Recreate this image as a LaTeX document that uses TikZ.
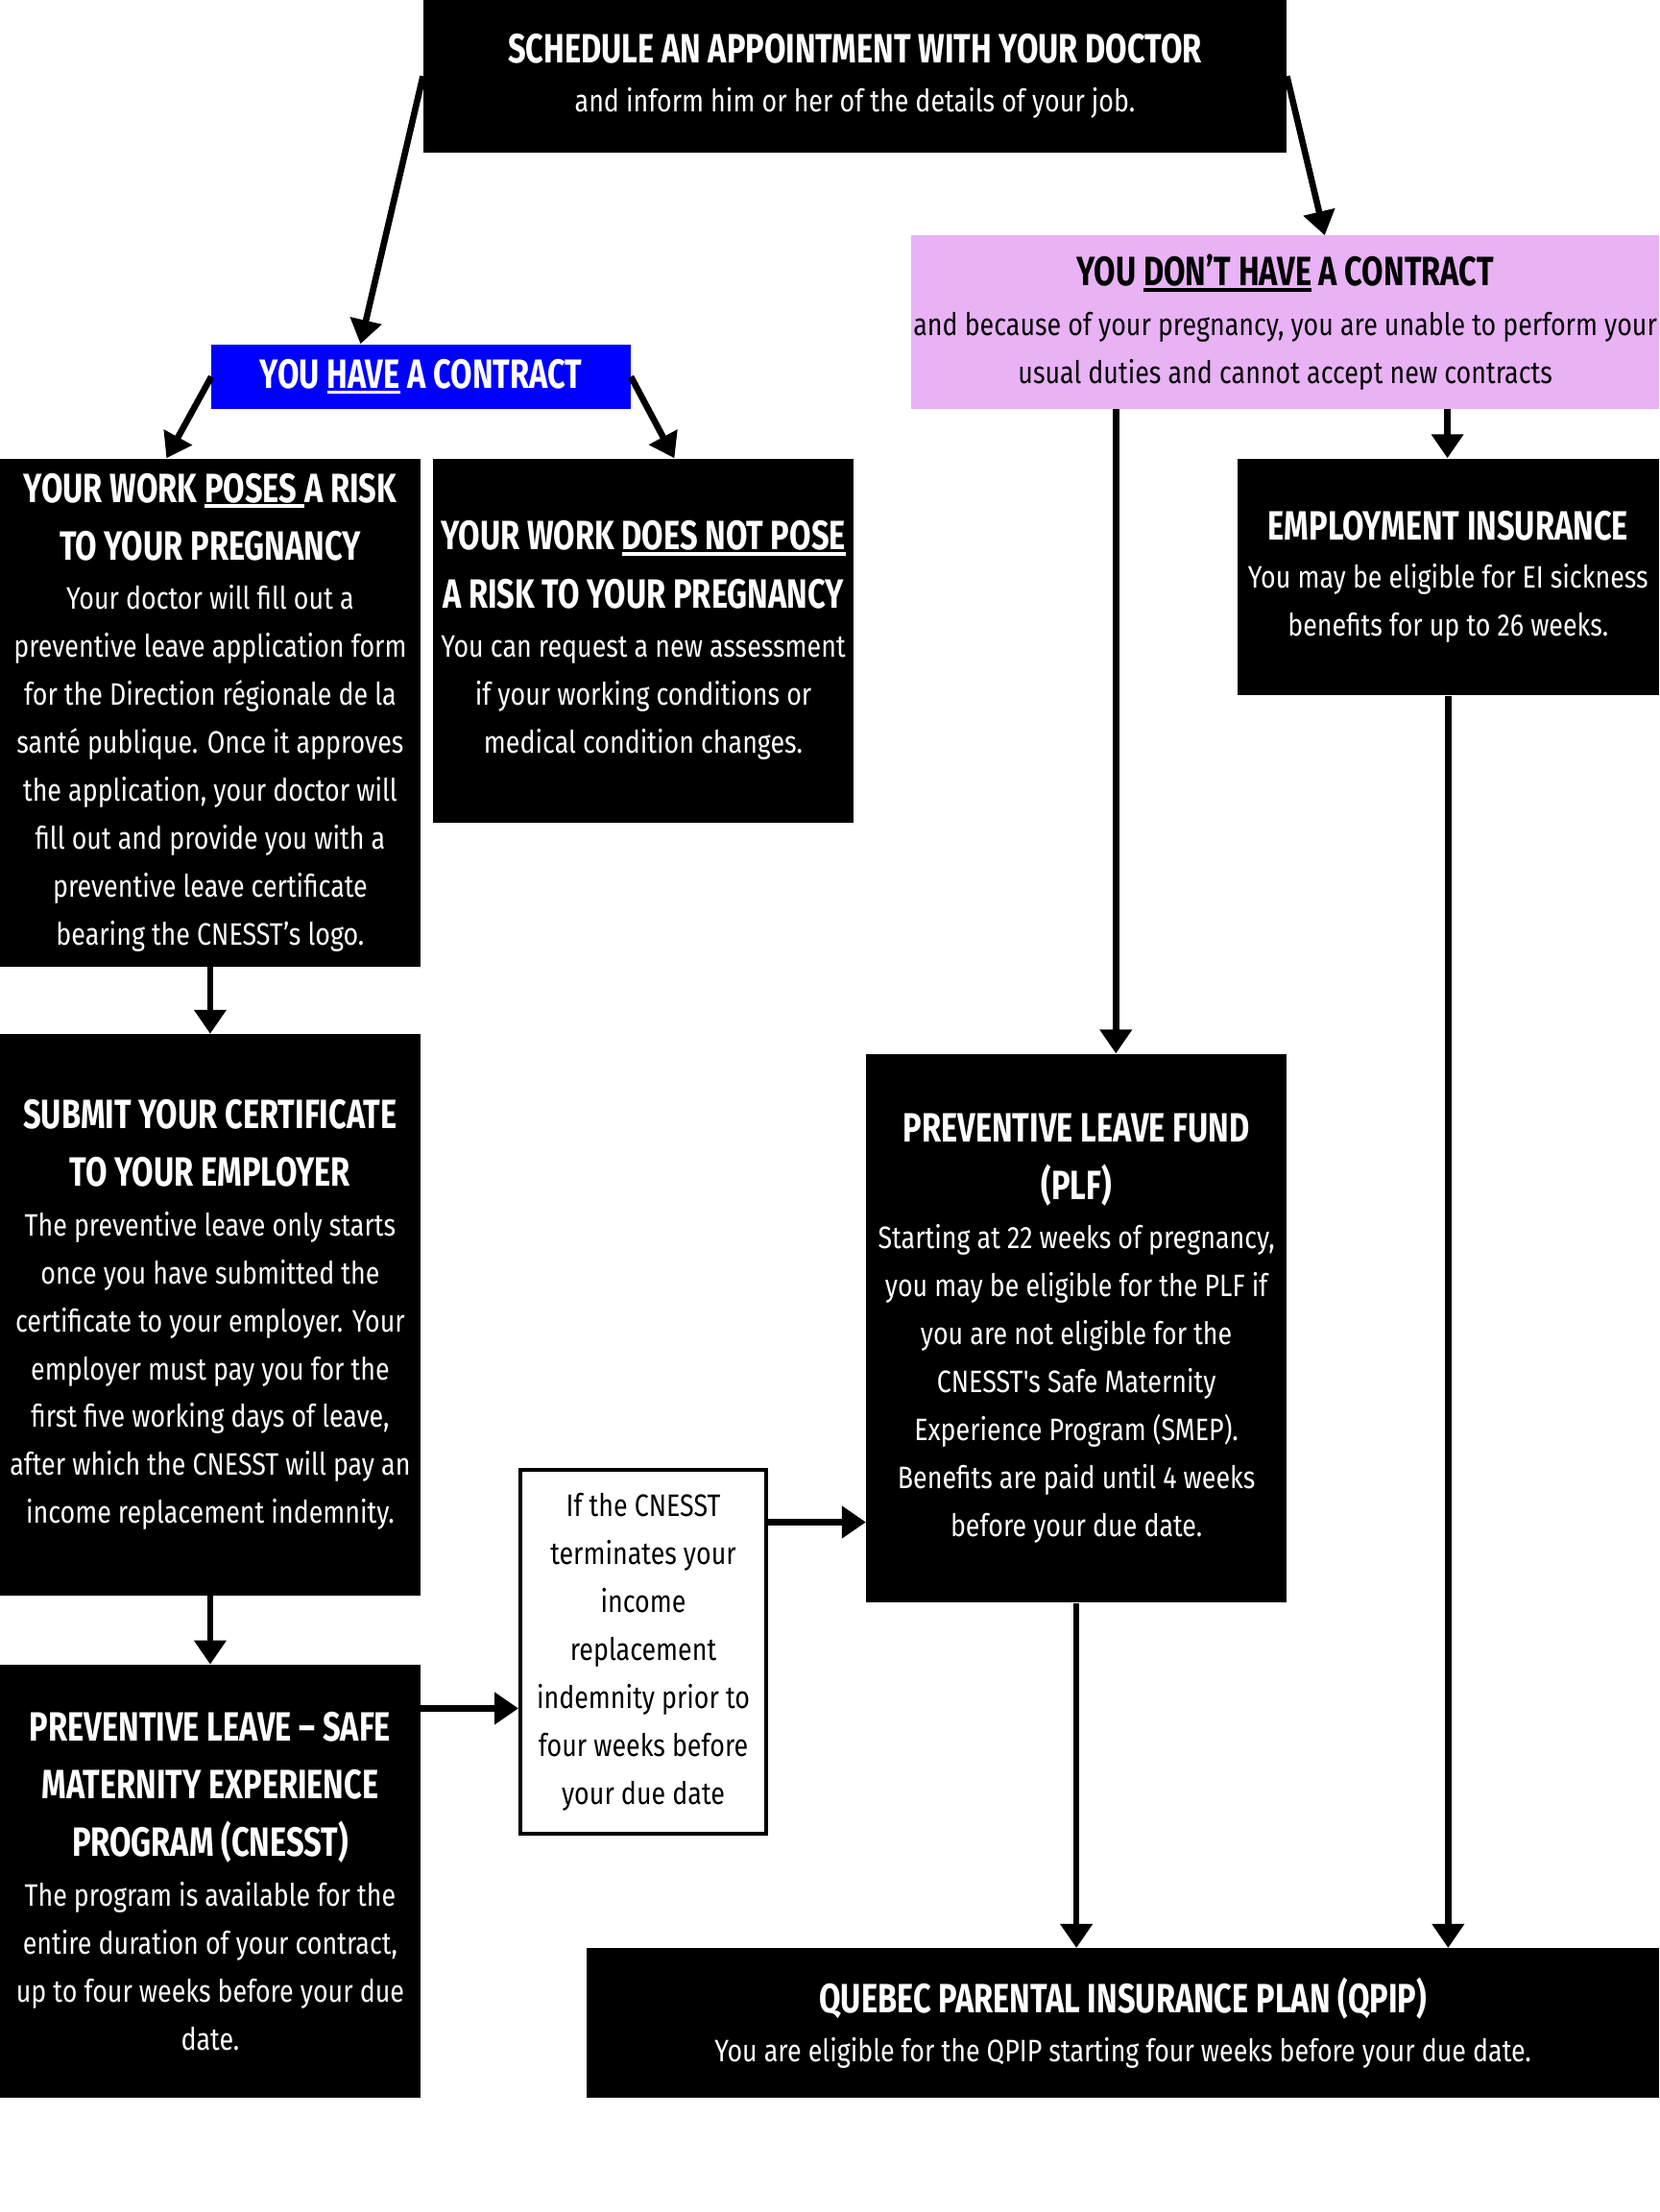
\documentclass[tikz,border=0pt]{standalone}
\usepackage{fontspec}
\setmainfont[FakeStretch=0.83]{Fira Sans}
\newfontfamily\plainbody[FakeStretch=0.83]{Fira Sans}
\newfontfamily\hdfont[FakeStretch=0.765]{Fira Sans}
\usetikzlibrary{arrows.meta,calc}
\definecolor{pinkbox}{RGB}{232,178,245}
\definecolor{bluebox}{RGB}{0,0,255}
\newsavebox\ulbox
\newcommand\hd[1]{{\hdfont\bfseries\fontsize{29}{34}\selectfont #1}}
\newcommand\ulx[1]{\sbox\ulbox{#1}\rlap{\rule[-4pt]{\wd\ulbox}{2.5pt}}\usebox\ulbox}
\tikzset{
  box/.style={fill=black, text=white, inner sep=0pt, align=center,
    font=\fontsize{22}{34}\selectfont},
  arr/.style={line width=4.5pt, -{Triangle[length=17pt,width=22pt]}},
}
\begin{document}
\begin{tikzpicture}[x=1pt,y=-1pt]
\fill[white] (0,0) rectangle (1176,1568);
\useasboundingbox (0,0) rectangle (1176,1568);

\node[box, minimum width=612pt, minimum height=108pt] (top) at (606,54)
  {\hd{SCHEDULE AN APPOINTMENT WITH YOUR DOCTOR}\\[1pt]
   and inform him or her of the details of your job.};

\node[box, fill=bluebox, minimum width=297pt, minimum height=46pt] (have) at (298.5,267)
  {\hd{YOU \ulx{HAVE} A CONTRACT}};

\node[box, fill=pinkbox, text=black, minimum width=530pt, minimum height=123pt] (nohave) at (911,228.5)
  {\hd{YOU \ulx{DON’T HAVE} A CONTRACT}\\[1pt]
   and because of your pregnancy, you are unable to perform your\\
   usual duties and cannot accept new contracts};

\node[box, minimum width=298pt, minimum height=360pt] (risk) at (149,505)
  {\hd{YOUR WORK \ulx{POSES }A RISK}\\[7pt]
   \hd{TO YOUR PREGNANCY}\\[1pt]
   Your doctor will fill out a\\
   preventive leave application form\\
   for the Direction régionale de la\\
   santé publique. Once it approves\\
   the application, your doctor will\\
   fill out and provide you with a\\
   preventive leave certificate\\
   bearing the CNESST’s logo.};

\node[box, minimum width=298pt, minimum height=258pt] (norisk) at (456,454)
  {\hd{YOUR WORK \ulx{DOES NOT POSE}}\\[7pt]
   \hd{A RISK TO YOUR PREGNANCY}\\[1pt]
   You can request a new assessment\\
   if your working conditions or\\
   medical condition changes.};

\node[box, minimum width=299pt, minimum height=168pt] (ei) at (1026.5,409)
  {\hd{EMPLOYMENT INSURANCE}\\
   You may be eligible for EI sickness\\
   benefits for up to 26 weeks.};

\node[box, minimum width=298pt, minimum height=398pt] (submit) at (149,932)
  {\hd{SUBMIT YOUR CERTIFICATE}\\[7pt]
   \hd{TO YOUR EMPLOYER}\\[1pt]
   The preventive leave only starts\\
   once you have submitted the\\
   certificate to your employer. Your\\
   employer must pay you for the\\
   first five working days of leave,\\
   after which the CNESST will pay an\\
   income replacement indemnity.};

\node[box, minimum width=298pt, minimum height=307pt] (plb) at (149,1333.5)
  {\hd{PREVENTIVE LEAVE – SAFE}\\[7pt]
   \hd{MATERNITY EXPERIENCE}\\[7pt]
   \hd{PROGRAM (CNESST)}\\[1pt]
   The program is available for the\\
   entire duration of your contract,\\
   up to four weeks before your due\\
   date.};

\node[box, fill=white, draw=black, line width=3pt, text=black,
      minimum width=174pt, minimum height=258pt] (cond) at (456,1171)
  {If the CNESST\\
   terminates your\\
   income\\
   replacement\\
   indemnity prior to\\
   four weeks before\\
   your due date};

\node[box, minimum width=298pt, minimum height=389pt] (plf) at (763,941.5)
  {\hd{PREVENTIVE LEAVE FUND}\\[7pt]
   \hd{(PLF)}\\[1pt]
   Starting at 22 weeks of pregnancy,\\
   you may be eligible for the PLF if\\
   you are not eligible for the\\
   {\plainbody CNESST's Safe Maternity}\\
   Experience Program (SMEP).\\
   Benefits are paid until 4 weeks\\
   before your due date.};

\node[box, minimum width=760pt, minimum height=106pt] (qpip) at (796,1434)
  {\hd{QUEBEC PARENTAL INSURANCE PLAN (QPIP)}\\[1pt]
   You are eligible for the QPIP starting four weeks before your due date.};

\coordinate (a1) at (0,1211);
\coordinate (a2) at (0,1079);

\draw[arr] (top.west) -- ([xshift=-43pt]have.north);
\draw[arr] (top.east) -- ([xshift=28pt]nohave.north);
\draw[arr] (have.west) -- ([xshift=-31pt]risk.north);
\draw[arr] (have.east) -- ([xshift=22pt]norisk.north);
\draw[arr] ([xshift=-120pt]nohave.south) -- ([xshift=28pt]plf.north);
\draw[arr] ([xshift=115pt]nohave.south) -- ([xshift=-0.5pt]ei.north);
\draw[arr] (risk.south) -- (submit.north);
\draw[arr] (submit.south) -- (plb.north);
\draw[arr] (plb.east |- a1) -- (cond.west |- a1);
\draw[arr] (cond.east |- a2) -- (plf.west |- a2);
\draw[arr] (plf.south) -- (plf.south |- qpip.north);
\draw[arr] (ei.south) -- (ei.south |- qpip.north);
\end{tikzpicture}
\end{document}
